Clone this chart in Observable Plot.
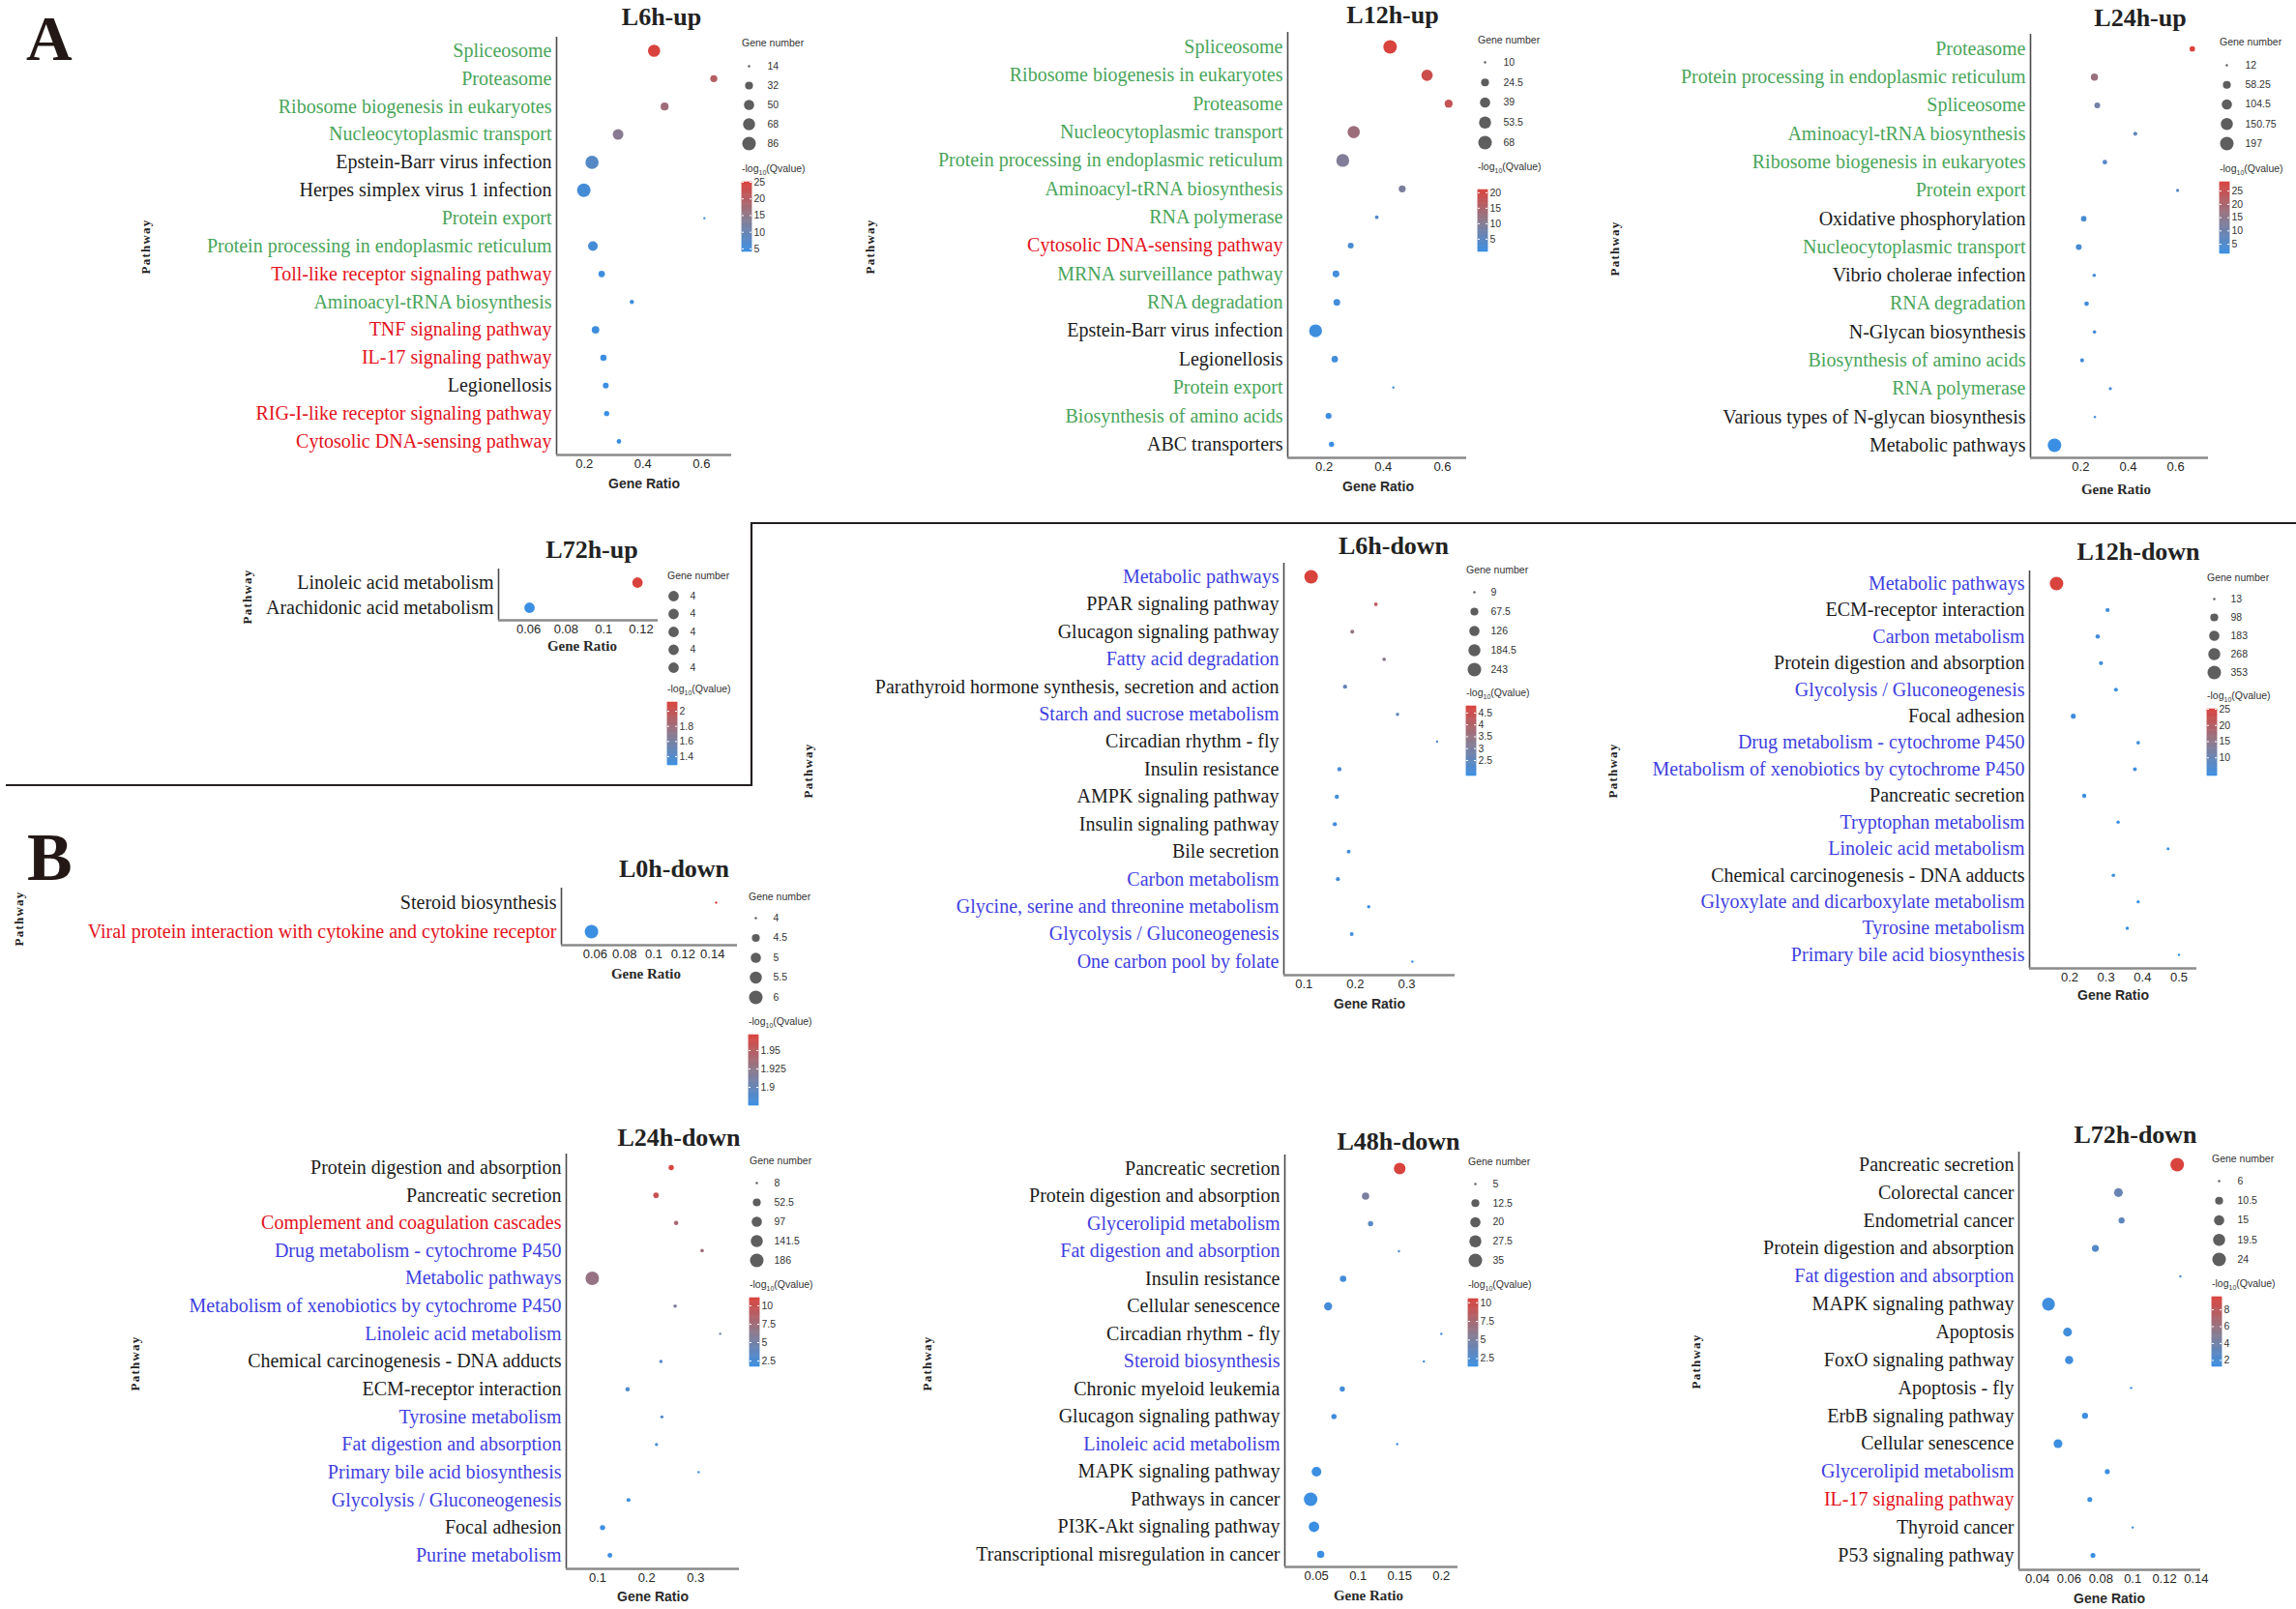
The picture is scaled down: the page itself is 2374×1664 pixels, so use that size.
<!DOCTYPE html>
<html><head><meta charset="utf-8">
<script src="https://cdn.jsdelivr.net/npm/d3@7"></script>
<script src="https://cdn.jsdelivr.net/npm/@observablehq/plot@0.6"></script>
<style>
html,body{margin:0;padding:0;background:#fff;}
#root{position:relative;width:2374px;height:1664px;overflow:hidden;background:#fff;}
.lg{position:absolute;font-family:"Liberation Sans",Arial,sans-serif;font-size:10.5px;color:#333;white-space:nowrap;line-height:12px;}
.lg sub{font-size:7px;line-height:0;}
</style></head><body><div id="root"></div>
<script>
// ---------------- DATA ----------------
// class codes: g = green, r = red, b = blue, k = black label
const L6hUp_pathway = ["Spliceosome","Proteasome","Ribosome biogenesis in eukaryotes","Nucleocytoplasmic transport","Epstein-Barr virus infection","Herpes simplex virus 1 infection","Protein export","Protein processing in endoplasmic reticulum","Toll-like receptor signaling pathway","Aminoacyl-tRNA biosynthesis","TNF signaling pathway","IL-17 signaling pathway","Legionellosis","RIG-I-like receptor signaling pathway","Cytosolic DNA-sensing pathway"];
const L6hUp_class = ["g","g","g","g","k","k","g","g","r","g","r","r","k","r","r"];
const L6hUp_ratio = [0.438,0.642,0.474,0.315,0.226,0.198,0.61,0.229,0.259,0.362,0.238,0.265,0.273,0.276,0.318];
const L6hUp_genes = [70,27,32,54,82,86,14,45,24,16,30,23,21,19,17];
const L6hUp_q = [25,20,17,14,7.5,5.5,5,5.5,4.8,4.8,4.6,4.5,4.4,4.2,4.1];
const L6hUp_sizeBreaks = [14,32,50,68,86];
const L6hUp_qTicks = [25,20,15,10,5];
const L6hUp_xTicks = [0.2,0.4,0.6];

const L12hUp_pathway = ["Spliceosome","Ribosome biogenesis in eukaryotes","Proteasome","Nucleocytoplasmic transport","Protein processing in endoplasmic reticulum","Aminoacyl-tRNA biosynthesis","RNA polymerase","Cytosolic DNA-sensing pathway","MRNA surveillance pathway","RNA degradation","Epstein-Barr virus infection","Legionellosis","Protein export","Biosynthesis of amino acids","ABC transporters"];
const L12hUp_class = ["g","g","g","g","g","g","g","r","g","g","k","k","g","g","k"];
const L12hUp_ratio = [0.423,0.548,0.621,0.30,0.263,0.464,0.378,0.29,0.24,0.243,0.171,0.236,0.434,0.215,0.225];
const L12hUp_genes = [68,48,25,56,62,20,11,16,19,19,62,18,10,16,14];
const L12hUp_q = [20.9,19,18,13,9.5,9,4,3,2,2,1.5,2,2.5,1.5,0.9];
const L12hUp_sizeBreaks = [10,24.5,39,53.5,68];
const L12hUp_qTicks = [20,15,10,5];
const L12hUp_xTicks = [0.2,0.4,0.6];

const L24hUp_pathway = ["Proteasome","Protein processing in endoplasmic reticulum","Spliceosome","Aminoacyl-tRNA biosynthesis","Ribosome biogenesis in eukaryotes","Protein export","Oxidative phosphorylation","Nucleocytoplasmic transport","Vibrio cholerae infection","RNA degradation","N-Glycan biosynthesis","Biosynthesis of amino acids","RNA polymerase","Various types of N-glycan biosynthesis","Metabolic pathways"];
const L24hUp_class = ["g","g","g","g","g","g","k","g","k","g","k","g","g","k","k"];
const L24hUp_ratio = [0.67,0.258,0.27,0.43,0.302,0.608,0.213,0.192,0.257,0.225,0.258,0.206,0.325,0.26,0.09];
const L24hUp_genes = [27,47,30,16,20,13,27,30,14,20,14,16,13,12,197];
const L24hUp_q = [28.3,17,11,8,6,5,4,4,3,3,3,2.5,2.5,2,1.4];
const L24hUp_sizeBreaks = [12,58.25,104.5,150.75,197];
const L24hUp_qTicks = [25,20,15,10,5];
const L24hUp_xTicks = [0.2,0.4,0.6];

const L72hUp_pathway = ["Linoleic acid metabolism","Arachidonic acid metabolism"];
const L72hUp_class = ["k","k"];
const L72hUp_ratio = [0.118,0.0605];
const L72hUp_genes = [4,4];
const L72hUp_q = [2.115,1.285];
const L72hUp_sizeBreaks = [4,4,4,4,4];
const L72hUp_qTicks = [2,1.8,1.6,1.4];
const L72hUp_xTicks = [0.06,0.08,0.1,0.12];

const L6hDown_pathway = ["Metabolic pathways","PPAR signaling pathway","Glucagon signaling pathway","Fatty acid degradation","Parathyroid hormone synthesis, secretion and action","Starch and sucrose metabolism","Circadian rhythm - fly","Insulin resistance","AMPK signaling pathway","Insulin signaling pathway","Bile secretion","Carbon metabolism","Glycine, serine and threonine metabolism","Glycolysis / Gluconeogenesis","One carbon pool by folate"];
const L6hDown_class = ["b","k","k","b","k","b","k","k","k","k","k","b","b","b","b"];
const L6hDown_ratio = [0.114,0.24,0.194,0.256,0.18,0.282,0.359,0.169,0.164,0.160,0.187,0.166,0.226,0.193,0.311];
const L6hDown_genes = [243,12,14,12,15,11,9,16,16,16,13,15,11,13,9];
const L6hDown_q = [4.78,4.2,3.4,3.3,2.6,2.6,2.2,2.1,2.0,2.0,2.0,1.95,1.9,1.9,1.85];
const L6hDown_sizeBreaks = [9,67.5,126,184.5,243];
const L6hDown_qTicks = [4.5,4,3.5,3,2.5];
const L6hDown_xTicks = [0.1,0.2,0.3];

const L12hDown_pathway = ["Metabolic pathways","ECM-receptor interaction","Carbon metabolism","Protein digestion and absorption","Glycolysis / Gluconeogenesis","Focal adhesion","Drug metabolism - cytochrome P450","Metabolism of xenobiotics by cytochrome P450","Pancreatic secretion","Tryptophan metabolism","Linoleic acid metabolism","Chemical carcinogenesis - DNA adducts","Glyoxylate and dicarboxylate metabolism","Tyrosine metabolism","Primary bile acid biosynthesis"];
const L12hDown_class = ["b","k","b","k","b","k","b","b","k","b","b","k","b","b","b"];
const L12hDown_ratio = [0.164,0.304,0.277,0.286,0.327,0.21,0.388,0.379,0.24,0.333,0.47,0.32,0.388,0.358,0.5];
const L12hDown_genes = [353,22,24,22,20,32,18,19,24,16,14,17,15,16,13];
const L12hDown_q = [25,5.5,5.3,5.2,5.0,4.9,4.8,4.8,4.6,4.6,4.5,4.5,4.5,4.4,4.4];
const L12hDown_sizeBreaks = [13,98,183,268,353];
const L12hDown_qTicks = [25,20,15,10];
const L12hDown_xTicks = [0.2,0.3,0.4,0.5];

const L0hDown_pathway = ["Steroid biosynthesis","Viral protein interaction with cytokine and cytokine receptor"];
const L0hDown_class = ["k","r"];
const L0hDown_ratio = [0.1425,0.0575];
const L0hDown_genes = [4,6];
const L0hDown_q = [1.971,1.875];
const L0hDown_sizeBreaks = [4,4.5,5,5.5,6];
const L0hDown_qTicks = [1.95,1.925,1.9];
const L0hDown_xTicks = [0.06,0.08,0.1,0.12,0.14];

const L24hDown_pathway = ["Protein digestion and absorption","Pancreatic secretion","Complement and coagulation cascades","Drug metabolism - cytochrome P450","Metabolic pathways","Metabolism of xenobiotics by cytochrome P450","Linoleic acid metabolism","Chemical carcinogenesis - DNA adducts","ECM-receptor interaction","Tyrosine metabolism","Fat digestion and absorption","Primary bile acid biosynthesis","Glycolysis / Gluconeogenesis","Focal adhesion","Purine metabolism"];
const L24hDown_class = ["k","k","r","b","b","b","b","k","k","b","b","b","b","k","b"];
const L24hDown_ratio = [0.25,0.219,0.26,0.313,0.089,0.258,0.35,0.229,0.161,0.231,0.22,0.306,0.163,0.11,0.125];
const L24hDown_genes = [20,22,14,10,186,10,8,10,14,9,9,8,12,20,16];
const L24hDown_q = [11.05,10,8,7.5,7,5.5,4.5,3,2.8,2.8,2.5,2.5,2,1.8,1.71];
const L24hDown_sizeBreaks = [8,52.5,97,141.5,186];
const L24hDown_qTicks = [10,7.5,5,2.5];
const L24hDown_xTicks = [0.1,0.2,0.3];

const L48hDown_pathway = ["Pancreatic secretion","Protein digestion and absorption","Glycerolipid metabolism","Fat digestion and absorption","Insulin resistance","Cellular senescence","Circadian rhythm - fly","Steroid biosynthesis","Chronic myeloid leukemia","Glucagon signaling pathway","Linoleic acid metabolism","MAPK signaling pathway","Pathways in cancer","PI3K-Akt signaling pathway","Transcriptional misregulation in cancer"];
const L48hDown_class = ["k","k","b","b","k","k","k","b","k","k","b","k","k","k","k"];
const L48hDown_ratio = [0.15,0.109,0.115,0.149,0.082,0.064,0.2,0.179,0.081,0.071,0.147,0.05,0.043,0.047,0.055];
const L48hDown_genes = [26,11,7,5,9,13,5,5,7,7,5,18,35,21,11];
const L48hDown_q = [10.5,5,3,2.5,2,2,2,2,1.8,1.8,1.6,1.5,1.5,1.4,1.4];
const L48hDown_sizeBreaks = [5,12.5,20,27.5,35];
const L48hDown_qTicks = [10,7.5,5,2.5];
const L48hDown_xTicks = [0.05,0.1,0.15,0.2];

const L72hDown_pathway = ["Pancreatic secretion","Colorectal cancer","Endometrial cancer","Protein digestion and absorption","Fat digestion and absorption","MAPK signaling pathway","Apoptosis","FoxO signaling pathway","Apoptosis - fly","ErbB signaling pathway","Cellular senescence","Glycerolipid metabolism","IL-17 signaling pathway","Thyroid cancer","P53 signaling pathway"];
const L72hDown_class = ["k","k","k","k","b","k","k","k","k","k","k","b","r","k","k"];
const L72hDown_ratio = [0.128,0.091,0.093,0.0765,0.13,0.047,0.059,0.06,0.099,0.07,0.053,0.084,0.073,0.1,0.075];
const L72hDown_genes = [24,12,8,9,6,22,12,11,6,8,12,7,7,6,7];
const L72hDown_q = [9.5,3.5,3,2.5,2,1.5,1.6,1.6,1.5,1.4,1.4,1.3,1.3,1.25,1.24];
const L72hDown_sizeBreaks = [6,10.5,15,19.5,24];
const L72hDown_qTicks = [8,6,4,2];
const L72hDown_xTicks = [0.04,0.06,0.08,0.1,0.12,0.14];

// ---------------- STYLE / LAYOUT ----------------
const catColor = {g:"#4aa55a", r:"#e3121b", b:"#3f3fe0", k:"#1c1c1c"};
const LOW = "#3a8fe3", MID = "#8c7a8c", HIGH = "#d9433d";
const SERIF = "Liberation Serif, Times New Roman, serif";
const SANS = "Liberation Sans, Arial, sans-serif";

const panels = [
 {title:"L6h-up", names:L6hUp_pathway, cls:L6hUp_class, ratio:L6hUp_ratio, genes:L6hUp_genes, q:L6hUp_q, sb:L6hUp_sizeBreaks, qt:L6hUp_qTicks, xt:L6hUp_xTicks,
  L:{axisX:575, axisLen:181, lineTop:38, rowTop:52, rowBottom:456, axisBottom:470, xDomain:[0.105,0.703], titleXY:[684,26], path:[150,255], gr:[666,500,"sans"], legX:767, gnY:44, dotX:774, labX:793, s0:68, s4:148, ctY:174, barTop:188, barBottom:260}},
 {title:"L12h-up", names:L12hUp_pathway, cls:L12hUp_class, ratio:L12hUp_ratio, genes:L12hUp_genes, q:L12hUp_q, sb:L12hUp_sizeBreaks, qt:L12hUp_qTicks, xt:L12hUp_xTicks,
  L:{axisX:1331, axisLen:185, lineTop:33, rowTop:48, rowBottom:459, axisBottom:473, xDomain:[0.077,0.682], titleXY:[1440,24], path:[899,255], gr:[1425,503,"sans"], legX:1528, gnY:41, dotX:1535, labX:1554, s0:64, s4:147, ctY:172, barTop:196, barBottom:260}},
 {title:"L24h-up", names:L24hUp_pathway, cls:L24hUp_class, ratio:L24hUp_ratio, genes:L24hUp_genes, q:L24hUp_q, sb:L24hUp_sizeBreaks, qt:L24hUp_qTicks, xt:L24hUp_xTicks,
  L:{axisX:2099, axisLen:184, lineTop:35, rowTop:50, rowBottom:460, axisBottom:473, xDomain:[-0.011,0.738], titleXY:[2213,27], path:[1669,257], gr:[2188,506,"serif"], legX:2295, gnY:43, dotX:2302, labX:2321, s0:67, s4:148, ctY:174, barTop:188, barBottom:262}},
 {title:"L72h-up", names:L72hUp_pathway, cls:L72hUp_class, ratio:L72hUp_ratio, genes:L72hUp_genes, q:L72hUp_q, sb:L72hUp_sizeBreaks, qt:L72hUp_qTicks, xt:L72hUp_xTicks,
  L:{axisX:515, axisLen:165, lineTop:588, rowTop:602, rowBottom:628, axisBottom:641, xDomain:[0.044,0.129], titleXY:[612,577], path:[255,617], gr:[602,668,"serif"], legX:690, gnY:595, dotX:696, labX:713, s0:616, s4:690, ctY:712, barTop:726, barBottom:791}},
 {title:"L6h-down", names:L6hDown_pathway, cls:L6hDown_class, ratio:L6hDown_ratio, genes:L6hDown_genes, q:L6hDown_q, sb:L6hDown_sizeBreaks, qt:L6hDown_qTicks, xt:L6hDown_xTicks,
  L:{axisX:1327, axisLen:177, lineTop:582, rowTop:596, rowBottom:994, axisBottom:1008, xDomain:[0.061,0.394], titleXY:[1441,573], path:[835,797], gr:[1416,1038,"sans"], legX:1516, gnY:589, dotX:1524, labX:1541, s0:612, s4:692, ctY:716, barTop:730, barBottom:802}},
 {title:"L12h-down", names:L12hDown_pathway, cls:L12hDown_class, ratio:L12hDown_ratio, genes:L12hDown_genes, q:L12hDown_q, sb:L12hDown_sizeBreaks, qt:L12hDown_qTicks, xt:L12hDown_xTicks,
  L:{axisX:2098, axisLen:173, lineTop:590, rowTop:603, rowBottom:987, axisBottom:1001, xDomain:[0.09,0.549], titleXY:[2211,579], path:[1667,797], gr:[2185,1029,"sans"], legX:2282, gnY:597, dotX:2289, labX:2306, s0:619, s4:695, ctY:719, barTop:733, barBottom:802}},
 {title:"L0h-down", names:L0hDown_pathway, cls:L0hDown_class, ratio:L0hDown_ratio, genes:L0hDown_genes, q:L0hDown_q, sb:L0hDown_sizeBreaks, qt:L0hDown_qTicks, xt:L0hDown_xTicks,
  L:{axisX:580, axisLen:182, lineTop:918, rowTop:933, rowBottom:963, axisBottom:977, xDomain:[0.037,0.157], titleXY:[697,907], path:[19,950], gr:[668,1007,"serif"], legX:774, gnY:927, dotX:781, labX:799, s0:949, s4:1031, ctY:1056, barTop:1070, barBottom:1143}},
 {title:"L24h-down", names:L24hDown_pathway, cls:L24hDown_class, ratio:L24hDown_ratio, genes:L24hDown_genes, q:L24hDown_q, sb:L24hDown_sizeBreaks, qt:L24hDown_qTicks, xt:L24hDown_xTicks,
  L:{axisX:585, axisLen:179, lineTop:1193, rowTop:1207, rowBottom:1608, axisBottom:1622, xDomain:[0.036,0.389], titleXY:[702,1185], path:[139,1410], gr:[675,1651,"sans"], legX:775, gnY:1200, dotX:782, labX:800, s0:1223, s4:1303, ctY:1328, barTop:1342, barBottom:1413}},
 {title:"L48h-down", names:L48hDown_pathway, cls:L48hDown_class, ratio:L48hDown_ratio, genes:L48hDown_genes, q:L48hDown_q, sb:L48hDown_sizeBreaks, qt:L48hDown_qTicks, xt:L48hDown_xTicks,
  L:{axisX:1328, axisLen:179, lineTop:1194, rowTop:1208, rowBottom:1607, axisBottom:1620, xDomain:[0.012,0.22], titleXY:[1446,1189], path:[958,1410], gr:[1415,1650,"serif"], legX:1518, gnY:1201, dotX:1525, labX:1543, s0:1224, s4:1303, ctY:1328, barTop:1343, barBottom:1413}},
 {title:"L72h-down", names:L72hDown_pathway, cls:L72hDown_class, ratio:L72hDown_ratio, genes:L72hDown_genes, q:L72hDown_q, sb:L72hDown_sizeBreaks, qt:L72hDown_qTicks, xt:L72hDown_xTicks,
  L:{axisX:2087, axisLen:188, lineTop:1191, rowTop:1204, rowBottom:1608, axisBottom:1623, xDomain:[0.0284,0.1428], titleXY:[2208,1182], path:[1753,1408], gr:[2181,1653,"sans"], legX:2287, gnY:1198, dotX:2294, labX:2313, s0:1221, s4:1302, ctY:1327, barTop:1341, barBottom:1413}}
];

const root = document.getElementById("root");
function place(el, left, top) {
  el.style.position = "absolute";
  el.style.left = left + "px";
  el.style.top = top + "px";
  el.style.maxWidth = "none";
  root.appendChild(el);
}
function htmlText(html, left, cy) {
  const div = document.createElement("div");
  div.className = "lg";
  div.innerHTML = html;
  div.style.left = left + "px";
  div.style.top = (cy - 6) + "px";
  root.appendChild(div);
}
const baseStyle = {background: "transparent", fontFamily: SANS, fontSize: "13px", color: "#262626", overflow: "visible"};

// overlay (letters, titles, axis titles, borders)
const ov = d3.select(root).append("svg")
  .attr("width", 2374).attr("height", 1664)
  .style("position", "absolute").style("left", 0).style("top", 0);
ov.append("path").attr("d", "M6,812H777V541H2374").attr("fill", "none").attr("stroke", "#231f20").attr("stroke-width", 2.2);
ov.append("text").attr("x", 27).attr("y", 62).text("A")
  .attr("font-family", SERIF).attr("font-weight", "bold").attr("font-size", 66).attr("fill", "#231815");
ov.append("text").attr("x", 28).attr("y", 910).text("B")
  .attr("font-family", SERIF).attr("font-weight", "bold").attr("font-size", 70).attr("fill", "#231815");

for (const p of panels) {
  const L = p.L;
  const n = p.names.length;
  const rows = p.names.map((name, i) => ({name, i, cat: p.cls[i], ratio: p.ratio[i], genes: p.genes[i], q: p.q[i]}));
  const gmin = d3.min(p.genes), gmax = d3.max(p.genes);
  const sizeT = v => gmax > gmin ? Math.sqrt((v - gmin) / (gmax - gmin)) : 0.72;
  const qDomain = d3.extent(p.q);
  const qMid = (qDomain[0] + qDomain[1]) / 2;
  const color = {type: "linear", domain: [qDomain[0], qMid, qDomain[1]], range: [LOW, MID, HIGH], interpolate: "rgb"};
  const rScale = {type: "linear", domain: [0, 1], range: [1.2, 7]};

  // main dot plot
  const ML = Math.min(540, L.axisX), MR = 10, MT = 4, MB = 40;
  const width = ML + L.axisLen + MR;
  const height = MT + (L.axisBottom - L.lineTop) + MB;
  const step = (L.rowBottom - L.rowTop) / (n - 1);
  const yTop = -(L.rowTop - L.lineTop) / step;
  const yBot = (n - 1) + (L.axisBottom - L.rowBottom) / step;
  const labelMarks = ["g", "r", "b", "k"].map(c => Plot.text(rows.filter(r => r.cat === c), {
    y: "i", text: "name", frameAnchor: "left", textAnchor: "end", dx: -5,
    fill: catColor[c], fontFamily: SERIF, fontSize: 20
  }));
  const plot = Plot.plot({
    width, height, marginLeft: ML, marginRight: MR, marginTop: MT, marginBottom: MB,
    style: baseStyle,
    x: {domain: L.xDomain, ticks: p.xt, tickFormat: v => String(v), tickSize: 0, tickPadding: 4, label: null},
    y: {domain: [yBot, yTop], axis: null},
    r: rScale,
    color,
    marks: [
      Plot.ruleX([L.xDomain[0]], {stroke: "#4a4a4a", strokeWidth: 1.6}),
      Plot.ruleY([yBot], {stroke: "#8a8a8a", strokeWidth: 2.6}),
      ...labelMarks,
      Plot.dot(rows, {x: "ratio", y: "i", r: d => sizeT(d.genes), fill: "q"})
    ]
  });
  place(plot, L.axisX - ML, L.lineTop - MT);

  // size legend
  const sTop = L.s0 - 12;
  const sizePlot = Plot.plot({
    width: 80, height: (L.s4 - L.s0) + 24, margin: 0,
    style: {...baseStyle, fontSize: "10.5px"},
    x: {domain: [0, 1], range: [L.dotX - L.legX, L.labX - L.legX], axis: null},
    y: {domain: [0, 4], range: [12, 12 + L.s4 - L.s0], axis: null},
    r: rScale,
    marks: [
      Plot.dot(p.sb, {x: 0, y: (v, i) => i, r: v => sizeT(v), fill: "#5e5e5e"}),
      Plot.text(p.sb, {x: 1, y: (v, i) => i, text: v => String(v), textAnchor: "start", fill: "#333", fontSize: 10.5})
    ]
  });
  place(sizePlot, L.legX, sTop);
  htmlText("Gene number", L.legX, L.gnY);

  // colour bar legend
  const cTop = L.barTop - 8;
  const steps = d3.range(80).map(k => [qDomain[0] + (qDomain[1] - qDomain[0]) * k / 80, qDomain[0] + (qDomain[1] - qDomain[0]) * (k + 1) / 80]);
  const colorPlot = Plot.plot({
    width: 60, height: L.barBottom - L.barTop + 16, margin: 0,
    style: {...baseStyle, fontSize: "10.5px"},
    x: {domain: [0, 1], range: [0, 10], axis: null},
    y: {domain: qDomain, range: [L.barBottom - cTop, L.barTop - cTop], axis: null},
    color,
    marks: [
      Plot.rect(steps, {x1: 0, x2: 1, y1: s => s[0], y2: s => s[1], fill: s => (s[0] + s[1]) / 2, stroke: s => (s[0] + s[1]) / 2, strokeWidth: 0.6}),
      Plot.ruleY(p.qt, {x1: 0, x2: 0.2, stroke: "white", strokeWidth: 1}),
      Plot.ruleY(p.qt, {x1: 0.8, x2: 1, stroke: "white", strokeWidth: 1}),
      Plot.text(p.qt, {x: 1, y: v => v, dx: 2, text: v => String(v), textAnchor: "start", fill: "#333", fontSize: 10.5})
    ]
  });
  place(colorPlot, L.legX, cTop);
  htmlText("-log<sub>10</sub>(Qvalue)", L.legX, L.ctY);

  // titles and axis titles
  ov.append("text").attr("x", L.titleXY[0]).attr("y", L.titleXY[1]).attr("text-anchor", "middle")
    .attr("font-family", SERIF).attr("font-weight", "bold").attr("font-size", 26).attr("fill", "#222").text(p.title);
  ov.append("text").attr("transform", `translate(${L.path[0]},${L.path[1]}) rotate(-90)`)
    .attr("text-anchor", "middle").attr("dominant-baseline", "central")
    .attr("font-family", SERIF).attr("font-weight", "bold").attr("font-size", 13).attr("letter-spacing", 1.2)
    .attr("fill", "#222").text("Pathway");
  const serifGR = L.gr[2] === "serif";
  ov.append("text").attr("x", L.gr[0]).attr("y", L.gr[1]).attr("text-anchor", "middle").attr("dominant-baseline", "central")
    .attr("font-family", serifGR ? SERIF : SANS).attr("font-weight", "bold").attr("font-size", serifGR ? 15 : 14)
    .attr("fill", "#2a2a2a").text("Gene Ratio");
}
</script></body></html>
